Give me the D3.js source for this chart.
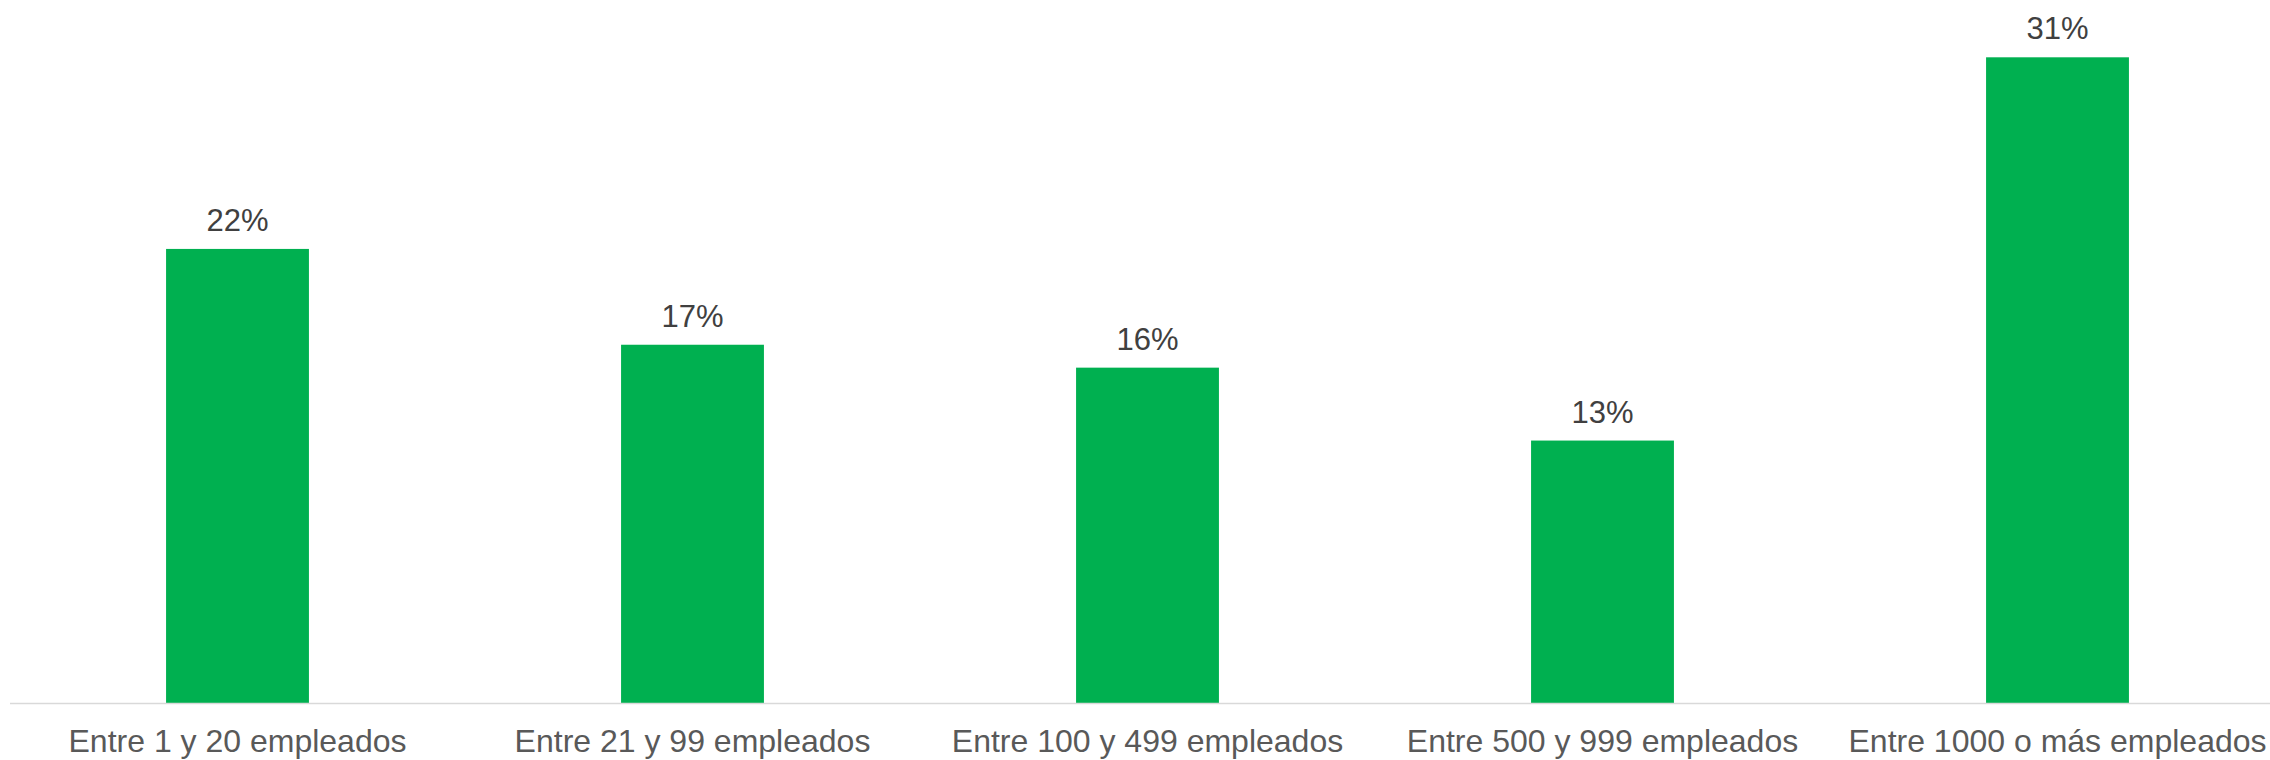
<!DOCTYPE html>
<html>
<head>
<meta charset="utf-8">
<script src="https://cdn.jsdelivr.net/npm/d3@7"></script>
<style>
  body { margin: 0; background: #fff; }
  text { font-family: "Liberation Sans", Arial, sans-serif; }
</style>
</head>
<body>
<div class="chart"></div>
<script>
var svgWidth = 2270;
var svgHeight = 760;

// Data
var categories = [
  "Entre 1 y 20 empleados",
  "Entre 21 y 99 empleados",
  "Entre 100 y 499 empleados",
  "Entre 500 y 999 empleados",
  "Entre 1000 o más empleados"
];
var shares = [21.8, 17.2, 16.1, 12.6, 31.0];
var shareLabels = ["22%", "17%", "16%", "13%", "31%"];

var data = categories.map(function(c, i) {
  return { cat: c, value: shares[i], label: shareLabels[i] };
});

var baseline = 703;

var svg = d3.select(".chart")
  .append("svg")
  .attr("width", svgWidth)
  .attr("height", svgHeight);

// Scales
var xBandScale = d3.scaleBand()
  .domain(categories)
  .range([10, 2285])
  .paddingInner(0.686)
  .paddingOuter(0.343);

var yLinearScale = d3.scaleLinear()
  .domain([0, 31])
  .range([baseline, 57.3]);

// Bars
svg.selectAll("rect.bar")
  .data(data)
  .enter()
  .append("rect")
  .attr("class", "bar")
  .attr("x", d => xBandScale(d.cat))
  .attr("y", d => yLinearScale(d.value))
  .attr("width", xBandScale.bandwidth())
  .attr("height", d => baseline - yLinearScale(d.value))
  .attr("fill", "#00b050");

// Value labels
svg.selectAll("text.val")
  .data(data)
  .enter()
  .append("text")
  .attr("class", "val")
  .attr("x", d => xBandScale(d.cat) + xBandScale.bandwidth() / 2)
  .attr("y", d => yLinearScale(d.value) - 18)
  .attr("text-anchor", "middle")
  .attr("font-size", "31px")
  .attr("fill", "#404040")
  .text(d => d.label);

// Bottom axis
var bottomAxis = d3.axisBottom(xBandScale).tickSize(0).tickPadding(0);

var axisG = svg.append("g")
  .attr("transform", `translate(0, ${baseline})`)
  .call(bottomAxis);

axisG.select(".domain").remove();
axisG.selectAll("text")
  .attr("y", 49)
  .attr("dy", 0)
  .attr("font-size", "32px")
  .attr("font-family", "'Liberation Sans', Arial, sans-serif")
  .attr("fill", "#595959");

svg.append("line")
  .attr("x1", 10)
  .attr("x2", svgWidth)
  .attr("y1", baseline + 0.5)
  .attr("y2", baseline + 0.5)
  .attr("stroke", "#d9d9d9")
  .attr("stroke-width", 1.5);
</script>
</body>
</html>
